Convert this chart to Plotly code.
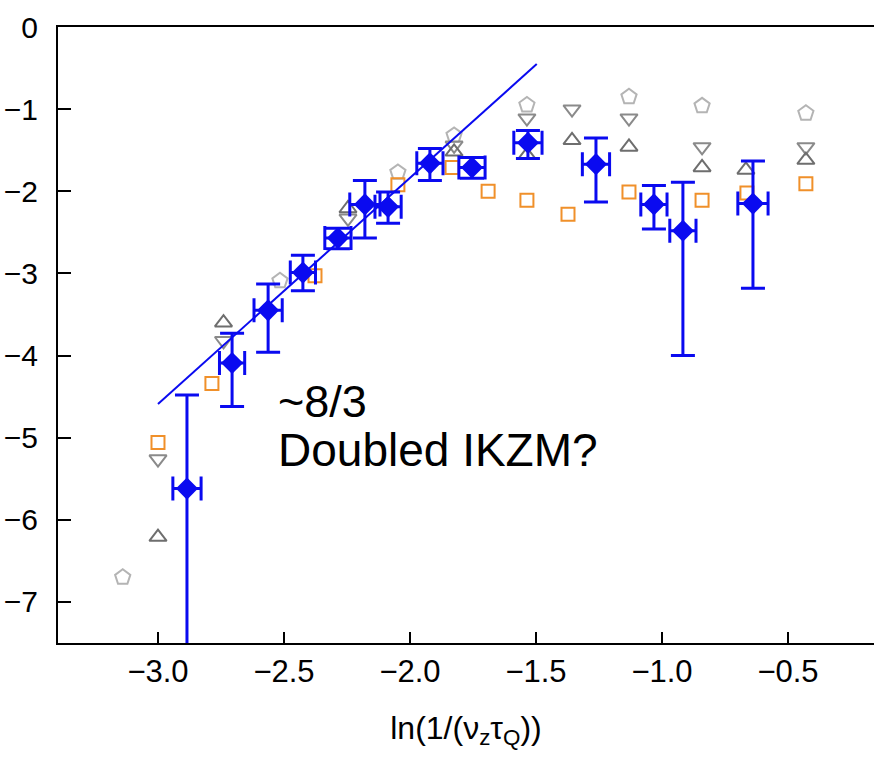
import plotly.graph_objects as go

# ---- data ----
blue_x = [-2.885, -2.706, -2.563, -2.425, -2.286, -2.179, -2.087, -1.921, -1.754, -1.532, -1.262, -1.032, -0.917, -0.639]
blue_y = [-5.62, -4.09, -3.45, -2.99, -2.57, -2.16, -2.19, -1.66, -1.71, -1.41, -1.67, -2.16, -2.48, -2.15]
blue_err_up = [1.14, 0.36, 0.32, 0.21, 0.12, 0.29, 0.18, 0.18, 0.12, 0.15, 0.32, 0.23, 0.59, 0.52]
blue_err_down = [2.40, 0.53, 0.51, 0.22, 0.13, 0.41, 0.20, 0.21, 0.13, 0.19, 0.46, 0.30, 1.52, 1.03]
blue_err_x = [0.056, 0.05, 0.056, 0.05, 0.052, 0.06, 0.052, 0.052, 0.052, 0.056, 0.054, 0.052, 0.052, 0.06]

square_x = [-3.0, -2.786, -2.377, -2.048, -1.833, -1.69, -1.536, -1.373, -1.131, -0.841, -0.663, -0.429]
square_y = [-5.06, -4.34, -3.03, -1.92, -1.71, -2.0, -2.11, -2.28, -2.01, -2.11, -2.02, -1.91]

down_x = [-3.0, -2.74, -2.246, -1.825, -1.536, -1.357, -1.131, -0.841, -0.429]
down_y = [-5.26, -3.82, -2.33, -1.44, -1.11, -1.0, -1.11, -1.46, -1.46]

up_x = [-3.0, -2.74, -2.246, -1.825, -1.536, -1.357, -1.131, -0.841, -0.667, -0.429]
up_y = [-6.21, -3.6, -2.21, -1.52, -1.56, -1.38, -1.46, -1.71, -1.74, -1.62]

pent_x = [-3.14, -2.516, -2.048, -1.825, -1.536, -1.131, -0.841, -0.429]
pent_y = [-6.70, -3.09, -1.77, -1.32, -0.95, -0.85, -0.96, -1.05]

fit_x = [-3.0, -1.497]
fit_y = [-4.59, -0.451]

x_ticks = [-3.0, -2.5, -2.0, -1.5, -1.0, -0.5]
y_ticks = [0, -1, -2, -3, -4, -5, -6, -7]

BLUE = "#0A0AF0"
FONT = "Liberation Sans, Arial, sans-serif"

fig = go.Figure()

fig.add_trace(go.Scatter(x=pent_x, y=pent_y, mode="markers",
                         marker=dict(symbol="pentagon-open", size=16, color="#B4B4B4",
                                     line=dict(width=2, color="#B4B4B4"))))
fig.add_trace(go.Scatter(x=down_x, y=down_y, mode="markers",
                         marker=dict(symbol="triangle-down-open", size=15, color="#8A8A8A",
                                     line=dict(width=2, color="#8A8A8A"))))
fig.add_trace(go.Scatter(x=up_x, y=up_y, mode="markers",
                         marker=dict(symbol="triangle-up-open", size=15, color="#6E6E6E",
                                     line=dict(width=2, color="#6E6E6E"))))
fig.add_trace(go.Scatter(x=square_x, y=square_y, mode="markers",
                         marker=dict(symbol="square-open", size=13, color="#F0902A",
                                     line=dict(width=2, color="#F0902A"))))
fig.add_trace(go.Scatter(x=fit_x, y=fit_y, mode="lines",
                         line=dict(color=BLUE, width=2)))
fig.add_trace(go.Scatter(
    x=blue_x, y=blue_y, mode="markers",
    marker=dict(symbol="diamond", size=17, color=BLUE),
    error_y=dict(type="data", symmetric=False, array=blue_err_up, arrayminus=blue_err_down,
                 color=BLUE, thickness=3, width=12),
    error_x=dict(type="data", array=blue_err_x, color=BLUE, thickness=3, width=12),
))

fig.add_annotation(x=-2.532, y=-4.56, xref="x", yref="y", text="~8/3", showarrow=False,
                   xanchor="left", yanchor="middle", font=dict(family=FONT, size=45, color="black"))
fig.add_annotation(x=-2.532, y=-5.15, xref="x", yref="y", text="Doubled IKZM?", showarrow=False,
                   xanchor="left", yanchor="middle", font=dict(family=FONT, size=46, color="black"))

fig.update_layout(
    width=874, height=757,
    margin=dict(l=58, r=0, t=27, b=114),
    paper_bgcolor="white", plot_bgcolor="white",
    showlegend=False,
    font=dict(family=FONT, color="black"),
)
fig.update_xaxes(
    range=[-3.3968, -0.1587], tickvals=x_ticks, tickformat=".1f",
    showline=True, linecolor="black", linewidth=2, mirror=True,
    ticks="inside", ticklen=11, tickwidth=1.5, tickcolor="black",
    showgrid=False, zeroline=False,
    tickfont=dict(family=FONT, size=31, color="black"),
    title=dict(text="ln(1/(ν<sub>z</sub>τ<sub>Q</sub>))", font=dict(family=FONT, size=32, color="black"),
               standoff=28),
)
fig.update_yaxes(
    range=[-7.5, 0], tickvals=y_ticks,
    showline=True, linecolor="black", linewidth=2, mirror=False,
    ticks="inside", ticklen=13, tickwidth=1.5, tickcolor="black",
    showgrid=False, zeroline=False,
    tickfont=dict(family=FONT, size=30, color="black"),
    ticklabelstandoff=12,
)

fig.write_html("out.html")
